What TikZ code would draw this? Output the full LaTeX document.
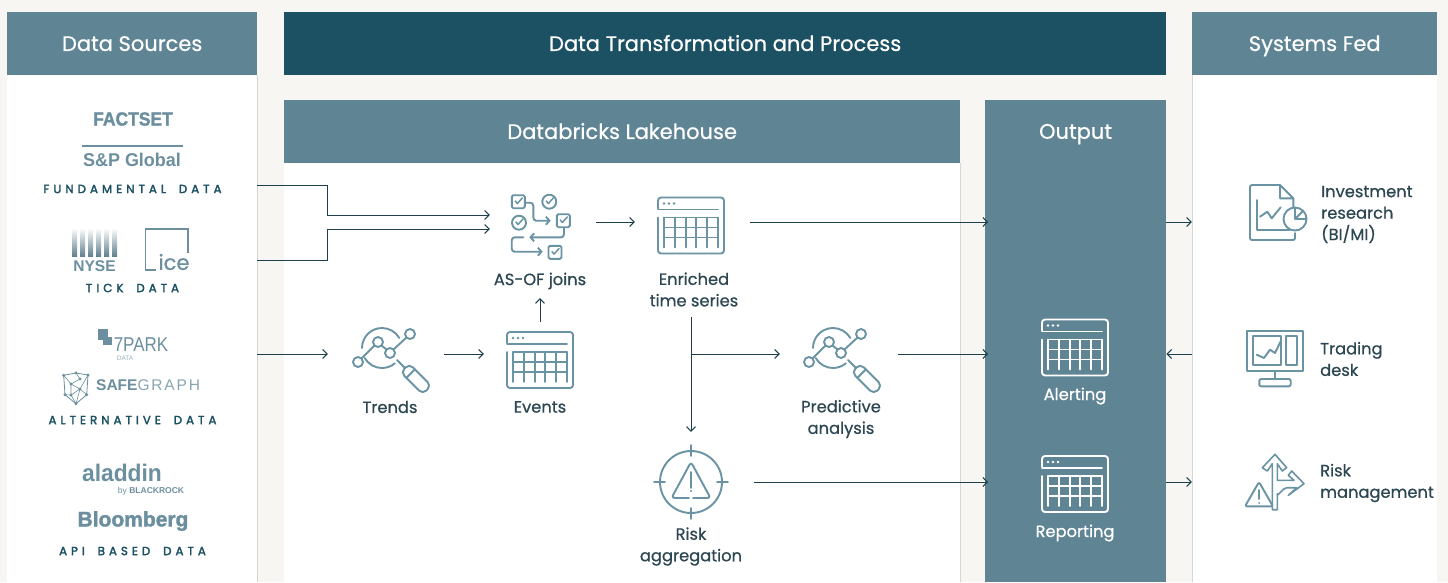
\documentclass[tikz,border=0pt]{standalone}
\usepackage{fontspec}
\setmainfont[RawFeature={embolden=0.6}]{Poppins}
\newfontfamily\capsfont[LetterSpace=34,WordSpace=1.8,RawFeature={embolden=2.4}]{Poppins}
\newfontfamily\logofont{Liberation Sans}
\newfontfamily\logoheavy[RawFeature={embolden=1.6}]{Liberation Sans}
\usetikzlibrary{arrows.meta}
\definecolor{pagebg}{HTML}{F7F6F2}
\definecolor{headblue}{HTML}{5F8595}
\definecolor{headdark}{HTML}{1B5163}
\definecolor{iconblue}{HTML}{6A93A3}
\definecolor{logoblue}{HTML}{6C8F9F}
\definecolor{linedark}{HTML}{1E3F4C}
\definecolor{textdark}{HTML}{2C4652}
\definecolor{edgegrey}{HTML}{D5D8D0}
\newcommand{\chkmark}[1]{\draw[shift={#1},line width=1.5pt] (-3,0) -- (-1,2.5) -- (4,-3);}
\tikzset{
  head/.style={fill=#1,text=white,anchor=north west,minimum height=63pt,inner sep=0pt,
    text height=17.5pt,text depth=3pt,font=\fontsize{21}{25}\selectfont},
  head/.default=headblue,
  body/.style={fill=white,anchor=north west,inner sep=0pt},
  iconbox/.style 2 args={minimum width=#1,minimum height=#2,inner sep=0pt},
  lbl/.style={text=textdark,align=center,font=\fontsize{16.3}{21.5}\selectfont},
  lblleft/.style={lbl,align=left,anchor=west,inner sep=0pt},
  srclbl/.style={text=headdark,font=\capsfont\fontsize{11.8}{14}\selectfont},
  logo/.style={text=logoblue,inner sep=0pt},
  flow/.style={->,>={Straight Barb[length=4.5pt,width=9pt]},draw=linedark,line width=.95pt},
  edge/.style={draw=edgegrey,line width=1pt},
  iconline/.style={color=iconblue,line width=1.9pt,line cap=round,line join=round},
  iconwhite/.style={color=white,line width=1.9pt,line cap=round,line join=round},
  tableicon/.pic={
    \draw[rounded corners=3] (-33,-17) -- (-33,-28) -- (33,-28) -- (33,28) -- (-33,28) -- (-33,-8);
    \draw (-33,-16) -- (27,-16);
    \foreach \gx in {-27,-16.2,-5.4,5.4,16.2,27}
      \draw (\gx,-8) -- (\gx,22);
    \foreach \gy in {-8,2,12}
      \draw (-27,\gy) -- (27,\gy);
    \foreach \gx in {-27,-22,-17}
      \fill (\gx,-22) circle (1.4);
  },
  trendicon/.pic={
    \draw (-32,2) circle (5) (-12,-18) circle (5) (0,-7) circle (5) (20,-26) circle (5);
    \draw (-28.5,-1.5) -- (-15.5,-14.5) (-8.5,-14.5) -- (-3.5,-10.5) (3.5,-10.5) -- (16.5,-22.5);
    \draw (-8,-12) ++(180:20) arc[start angle=180,end angle=330,radius=20];
    \draw (-8,-12) ++(150:20) arc[start angle=150,end angle=50,radius=20];
    \draw (7,0) -- (15,8);
    \begin{scope}[shift={(15,8)},rotate=-45]
      \draw[rounded corners=5] (0,-6) -- (31,-6) -- (31,6) -- (0,6) -- cycle;
      \draw (8,-6) -- (8,6);
    \end{scope}
  },
  joinicon/.pic={
    \draw[rounded corners=1.5] (-29.2,-30.8) rectangle (-16.2,-17.8);
    \draw (8.3,-24.3) circle (7) (-22,-3.3) circle (7);
    \draw[rounded corners=1.5] (15.8,-11.8) rectangle (28.8,1.2);
    \draw[rounded corners=1.5] (7.5,19.8) rectangle (20.5,32.8);
    \chkmark{(-22.7,-25)} \chkmark{(8.3,-25)} \chkmark{(-22,-4)} \chkmark{(22.3,-6)} \chkmark{(14,25.6)}
    \draw[-{Straight Barb[length=3.5pt,width=8pt]},rounded corners=3] (-16,-23.3) -- (-7.7,-23.3) -- (-7.7,-5.3) -- (9.7,-5.3);
    \draw[-{Straight Barb[length=3.5pt,width=8pt]},rounded corners=3] (23,2.3) -- (23,11.3) -- (-11.7,11.3);
    \draw[-{Straight Barb[length=3.5pt,width=8pt]},rounded corners=3] (-17.7,11.3) -- (-29.3,11.3) -- (-29.3,25.7) -- (1.7,25.7);
  },
  riskicon/.pic={
    \draw (0,0) circle (31);
    \draw (0,-37) -- (0,-26) (0,37) -- (0,26) (-37,0) -- (-26,0) (37,0) -- (26,0);
    \draw[rounded corners=3] (-2,16) -- (-19.5,16) -- (0,-20) -- (19.5,16) -- (2,16);
    \draw (0,-10) -- (0,6);
    \fill (0,9) circle (1.2);
  },
  reporticon/.pic={
    \draw[rounded corners=2] (2,-28) -- (-28,-28) -- (-28,27) -- (17,27) -- (17,20);
    \draw (2,-28) -- (15.3,-14.7) -- (15.3,-6.3) (2,-28) -- (2,-14.7) -- (15.3,-14.7);
    \draw (-20.7,-13) -- (-20.7,17) -- (12,17);
    \draw (-18,3.7) -- (-10.7,-1.3) -- (-6.3,5.3) -- (2.7,-5.7);
    \draw (17,6) circle (11.5);
    \draw (17,-5.5) -- (17,6) -- (28.5,6) (17,6) -- (25,-2);
  },
  screenicon/.pic={
    \draw (-28.3,-27.3) rectangle (28.3,13.3);
    \draw (-21.7,-21.7) rectangle (5.7,6.7);
    \draw (11,-21.7) rectangle (21.7,6.7);
    \draw (-18.3,-3.3) -- (-11,0) -- (-5,-8.3) -- (0,-5) -- (5.7,-16.7);
    \draw (0,13.3) -- (0,21);
    \draw[rounded corners=2] (-15.7,28.3) -- (-15.7,21) -- (15.7,21) -- (15.7,28.3) -- cycle;
  },
  routeicon/.pic={
    \draw[line width=1.6pt] (-2.7,-18.3) -- (-2.7,27.7) -- (2.3,27.7) -- (2.3,11.7) to[out=-90,in=180] (11.7,5.7) -- (21.7,5.7) -- (13.3,13.3) -- (29,1.7) -- (16.7,-11) -- (13.3,-6.7) -- (19,-1.7) -- (2.3,-1.7) -- (2.3,-18.3) -- (7.3,-11) -- (11.7,-14.3) -- (0,-27.7) -- (-12.7,-14.3) -- (-7.7,-11) -- cycle;
    \draw[rounded corners=2] (-16,0) -- (-30,24.3) -- (-2,24.3) -- cycle;
    \draw (-16,8) -- (-16,17);
    \fill (-16,21) circle (1);
  },
  graphicon/.pic={
    \draw[line width=.8pt] (0,-15) -- (12,-13) -- (10.7,6.7) -- (0,15.7) -- (-11,6.7) -- (-12.3,-12.7) -- cycle;
    \draw[line width=.6pt] (-12.3,-12.7) -- (-5,-4) -- (4,-9) -- (0,-15) (-5,-4) -- (4,1) -- (12,-13) (4,1) -- (-5,7) -- (-11,6.7) (-5,7) -- (0,15.7) -- (4,1) -- (10.7,6.7) (-5,-4) -- (-5,7);
    \foreach \gx/\gy in {0/-15,12/-13,10.7/6.7,0/15.7,-11/6.7,-12.3/-12.7,-5/-4,4/-9,4/1,-5/7}
      \fill (\gx,\gy) circle (1.7);
  }
}
\begin{document}
\begin{tikzpicture}[x=1pt,y=-1pt]
\useasboundingbox (0,0) rectangle (1448,582);
\fill[pagebg] (0,0) rectangle (1448,582);

\node[body,minimum width=250pt,minimum height=507pt] (sources) at (7,75) {};
\node[head,minimum width=250pt] (sourcehead) at (7,12) {Data Sources};
\node[head=headdark,minimum width=882pt] (transhead) at (284,12) {Data Transformation and Process};
\node[body,minimum width=245pt,minimum height=507pt] (systems) at (1192,75) {};
\node[head,minimum width=245pt] (systemhead) at (1192,12) {Systems Fed};
\node[body,minimum width=676pt,minimum height=419pt] (lakehouse) at (284,163) {};
\node[head,minimum width=676pt] (lakehead) at (284,100) {Databricks Lakehouse};
\node[head,minimum width=181pt,minimum height=482pt] (output) at (985,100) {};
\node[head,anchor=center,fill=none,minimum height=0pt] (outputlbl) at (1075.5,131.5) {Output};
\draw[edge] (sources.north east) -- (sources.south east);
\draw[edge] (systems.north west) -- (systems.south west);
\draw[edge] (lakehouse.north east) -- (lakehouse.south east);

% logos
\node[logo,font=\logoheavy\bfseries\fontsize{19}{22}\selectfont] (factset) at (133,119) {\scalebox{.92}[1]{FACTSET}};
\draw[logoblue,line width=1.5pt] (82,146) -- (183,146);
\node[logo,font=\logofont\bfseries\fontsize{18.5}{22}\selectfont] (spglobal) at (132,160) {\scalebox{.97}[1]{S\&P Global}};
\node[srclbl] (funddata) at (132.5,189) {FUNDAMENTAL DATA};
\foreach \sx in {72,80,88,96,104,112}
  \shade[top color=white,bottom color=logoblue!90!black] (\sx,228) rectangle (\sx+5,256);
\node[logo,font=\logofont\bfseries\fontsize{15.5}{18}\selectfont] (nyse) at (94.5,266) {NYSE};
\draw[logoblue,line width=1.4pt] (156,270) -- (145.5,270) -- (145.5,229) -- (188,229) -- (188,253);
\node[logo,font=\fontsize{21}{22}\selectfont] (ice) at (174,262) {ice};
\node[srclbl] (tickdata) at (132.5,288) {TICK DATA};
\fill[logoblue] (98,329) rectangle (108,340);
\fill[logoblue] (103,337) rectangle (112,345);
\node[logo,font=\logofont\fontsize{20}{22}\selectfont] (sevenpark) at (141,345) {\scalebox{.85}[1]{7PARK}};
\node[logo,text=logoblue!70,font=\logofont\fontsize{6.5}{8}\selectfont] (parkdata) at (125,358) {DATA};
\pic[color=logoblue,line cap=round] at (76,388) {graphicon};
\node[logo,anchor=west,font=\logofont\fontsize{15.5}{18}\selectfont] (safegraph) at (96,385) {\textbf{SAFE}{\color{logoblue!80}\addfontfeature{LetterSpace=12}GRAPH}};
\node[srclbl] (altdata) at (132.5,420) {ALTERNATIVE DATA};
\node[logo,font=\logofont\bfseries\fontsize{24}{26}\selectfont] (aladdin) at (122,473) {\scalebox{.95}[1]{aladdin}};
\node[logo,font=\logofont\fontsize{8.5}{10}\selectfont] (blackrock) at (151,491) {by \textbf{BLACKROCK}};
\node[logo,font=\logoheavy\bfseries\fontsize{21}{24}\selectfont] (bloomberg) at (133,521) {Bloomberg};
\node[srclbl] (apidata) at (132.5,551) {API BASED DATA};

% icon slots, the connectors stop at their sides
\node[iconbox={106pt}{152pt}] (asof) at (543,222) {};
\node[iconbox={115pt}{190pt}] (enriched) at (692.5,222) {};
\node[iconbox={116pt}{64pt}] (trends) at (386,354) {};
\node[iconbox={112pt}{64pt}] (events) at (540,354) {};
\node[iconbox={118pt}{64pt}] (predictive) at (839,354) {};
\node[iconbox={126pt}{100pt}] (risk) at (691,482) {};
\node[iconbox={172pt}{64pt}] (invest) at (1278,222) {};
\node[iconbox={172pt}{64pt}] (trading) at (1278,354) {};
\node[iconbox={172pt}{64pt}] (riskmgmt) at (1278,482) {};
\coordinate (fundout) at (sources.east |- 0,185);
\coordinate (tickout) at (sources.east |- 0,260);
\coordinate (altout) at (sources.east |- 0,354);

\pic[iconline] at (541,226) {joinicon};
\pic[iconline] at (691,225.5) {tableicon};
\pic[iconline] at (390,360) {trendicon};
\pic[iconline] at (540,360) {tableicon};
\pic[iconline] at (841,360) {trendicon};
\pic[iconline] at (691,482) {riskicon};
\pic[iconwhite] at (1075,347.5) {tableicon};
\pic[iconwhite] at (1075,484) {tableicon};
\pic[iconline] at (1278,213) {reporticon};
\pic[iconline] at (1275,358) {screenicon};
\pic[iconline] at (1275,482) {routeicon};

\node[lbl] (asoflbl) at (540,281) {AS-OF joins};
\node[lbl] (enrichedlbl) at (694,289.5) {Enriched\\time series};
\node[lbl] (trendslbl) at (390,407) {Trends};
\node[lbl] (eventslbl) at (540,407) {Events};
\node[lbl] (predictlbl) at (841,419) {Predictive\\analysis};
\node[lbl] (risklbl) at (691,546.5) {Risk\\aggregation};
\node[lbl,text=white] (alertlbl) at (1075,396) {Alerting};
\node[lbl,text=white] (reportlbl) at (1075,533) {Reporting};
\node[lblleft] (investlbl) at (1321,214.5) {Investment\\research\\(BI/MI)};
\node[lblleft] (tradinglbl) at (1320,359) {Trading\\desk};
\node[lblleft] (mgmtlbl) at (1320,483) {Risk\\management};

\draw[flow] (fundout) -- ++(70,0) |- ([yshift=7pt]asof.west);
\draw[flow] (tickout) -- ++(70,0) |- ([yshift=-7pt]asof.west);
\draw[flow] (altout) -- (trends.west);
\draw[flow] (trends.east) -- (events.west);
\draw[flow] (events.north) -- (events.north |- asof.south);
\draw[flow] (asof.east) -- (enriched.west);
\draw[flow] (enriched.east) -- ([xshift=3pt]enriched.east -| output.west);
\draw[flow] (risk.north |- enriched.south) -- (risk.north);
\draw[flow] (risk.north |- predictive.west) -- (predictive.west);
\draw[flow] (predictive.east) -- ([xshift=3pt]predictive.east -| output.west);
\draw[flow] (risk.east) -- ([xshift=3pt]risk.east -| output.west);
\draw[flow] (output.east |- invest.west) -- (invest.west);
\draw[flow] (trading.west) -- (output.east |- trading.west);
\draw[flow] (output.east |- riskmgmt.west) -- (riskmgmt.west);
\end{tikzpicture}
\end{document}
